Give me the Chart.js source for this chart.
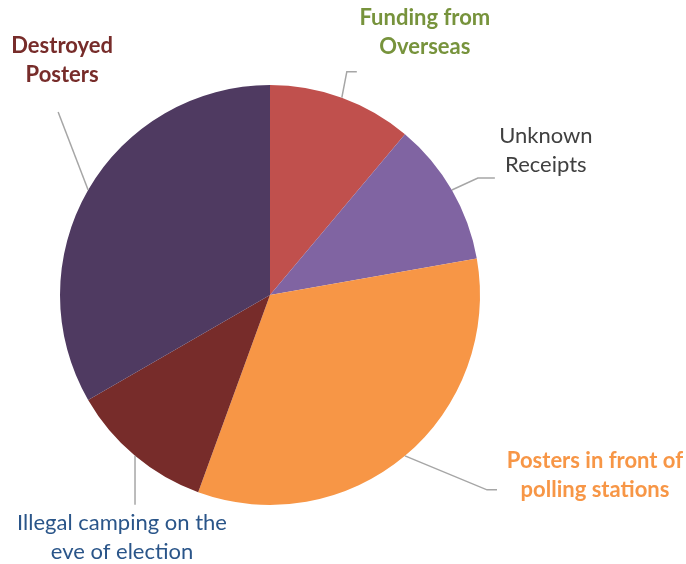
<!DOCTYPE html>
<html>
<head>
<meta charset="utf-8">
<script src="https://cdn.jsdelivr.net/npm/chart.js@4/dist/chart.umd.min.js"></script>
<style>
  html, body { margin: 0; padding: 0; background: #fff; }
  #wrap { width: 686px; height: 564px; position: relative; }
</style>
</head>
<body>
<div id="wrap"><canvas id="myChart"></canvas></div>
<script>
const categories = [
    ['Funding from', 'Overseas'],
    ['Unknown', 'Receipts'],
    ['Posters in front of', 'polling stations'],
    ['Illegal camping on the', 'eve of election'],
    ['Destroyed', 'Posters']
];
const values = [1, 1, 3, 1, 3];

const sliceColors = ['#C0504D', '#8064A2', '#F79646', '#772C2A', '#4F3A61'];
const labelColors = ['#77933C', '#404040', '#F79646', '#2A5589', '#772C2A'];
const labelBold = [true, false, true, false, true];

// leader line bends and label anchors, relative to the slice's outer mid point
const labelLayout = [
    { bend: [[5, -26], [15, -26]], text: [83, -80] },
    { bend: [[26, -12], [43, -12]], text: [94, -54] },
    { bend: [[82, 34], [92, 34]], text: [190, 5] },
    { bend: [[0, 49]], text: [-13, 67] },
    { bend: [[-30, -78]], text: [-26, -144] }
];

const ctx = document.getElementById('myChart').getContext('2d');

const leaderLabels = {
    id: 'leaderLabels',
    afterDatasetsDraw(chart) {
        const c = chart.ctx;
        const arcs = chart.getDatasetMeta(0).data;
        arcs.forEach((arc, i) => {
            const mid = (arc.startAngle + arc.endAngle) / 2;
            const x0 = arc.x + Math.cos(mid) * arc.outerRadius;
            const y0 = arc.y + Math.sin(mid) * arc.outerRadius;
            const lay = labelLayout[i];
            c.save();
            c.strokeStyle = '#A6A6A6';
            c.lineWidth = 1.5;
            c.beginPath();
            c.moveTo(x0, y0);
            lay.bend.forEach(p => c.lineTo(x0 + p[0], y0 + p[1]));
            c.stroke();
            c.fillStyle = labelColors[i];
            c.font = (labelBold[i] ? 'bold ' : '') + '22px Lato';
            c.textAlign = 'center';
            c.textBaseline = 'middle';
            categories[i].forEach((line, j) => {
                c.fillText(line, x0 + lay.text[0], y0 + lay.text[1] + j * 29);
            });
            c.restore();
        });
    }
};

const myChart = new Chart(ctx, {
    type: 'pie',
    data: {
        labels: categories.map(l => l.join(' ')),
        datasets: [{
            data: values,
            backgroundColor: sliceColors,
            borderWidth: 0
        }]
    },
    options: {
        responsive: true,
        maintainAspectRatio: false,
        animation: false,
        layout: {
            padding: {
                left: 60,
                right: 206,
                top: 85,
                bottom: 59
            }
        },
        plugins: {
            legend: { display: false },
            tooltip: { enabled: false }
        }
    },
    plugins: [leaderLabels]
});
</script>
</body>
</html>
